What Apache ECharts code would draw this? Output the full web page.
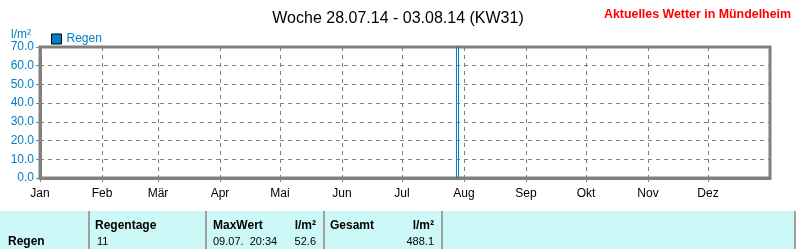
<!DOCTYPE html>
<html><head><meta charset="utf-8">
<script src="https://cdn.jsdelivr.net/npm/echarts@6/dist/echarts.min.js"></script>
<style>html,body{margin:0;padding:0;background:#fff}#c{width:796px;height:249px}</style>
</head><body><div id="c"></div>
<script>
const titleText = 'Woche 28.07.14 - 03.08.14 (KW31)';
const linkText = 'Aktuelles Wetter in Mündelheim';
const monthLabels = ['Jan','Feb','Mär','Apr','Mai','Jun','Jul','Aug','Sep','Okt','Nov','Dez'];
const monthStartDays = [0,31,59,90,120,151,181,212,243,273,304,334];
const yTicks = [0,10,20,30,40,50,60,70];
const weekDates = ['28.07.','29.07.','30.07.','31.07.','01.08.','02.08.','03.08.'];
const weekStartDay = 208;
const regenWeek = [0,0,0,0,0,0,0];
const weekMarkerDays = [208,209];
const tableHeader = ['Regentage','MaxWert','l/m²','Gesamt','l/m²'];
const tableRowLabel = 'Regen';
const tableRow = ['11','09.07.  20:34','52.6','488.1'];

const days = [];
for (let i = 0; i <= 365; i++) days.push(String(i));
const regenData = days.map(() => null);
regenWeek.forEach((v, k) => { regenData[weekStartDay + k] = v; });
const monthSet = new Set(monthStartDays);
const blue = '#0080c8';
const font = '"Liberation Sans", Arial, sans-serif';

const chart = echarts.init(document.getElementById('c'), null, {renderer: 'canvas'});
const sepX = [88, 205, 323, 441, 794];
const graphic = [
  {type:'text', right: 5, top: 9, style:{text: linkText, fill:'#ff0000', font:'bold 12.4px ' + font}},
  {type:'rect', shape:{x:0, y:211, width:796, height:38}, style:{fill:'#ccf8f8'}, silent:true},
];
sepX.forEach(x => {
  graphic.push({type:'rect', shape:{x:x, y:211, width:2, height:38}, style:{fill:'#a0a0a0'}});
});
const tb = 'bold 12px ' + font, tn = '11px ' + font;
graphic.push(
  {type:'text', x:95, y:226, style:{text:tableHeader[0], font:tb, fill:'#000', verticalAlign:'middle'}},
  {type:'text', x:213, y:226, style:{text:tableHeader[1], font:tb, fill:'#000', verticalAlign:'middle'}},
  {type:'text', x:316, y:226, style:{text:tableHeader[2], font:tb, fill:'#000', verticalAlign:'middle', align:'right'}},
  {type:'text', x:330, y:226, style:{text:tableHeader[3], font:tb, fill:'#000', verticalAlign:'middle'}},
  {type:'text', x:434, y:226, style:{text:tableHeader[4], font:tb, fill:'#000', verticalAlign:'middle', align:'right'}},
  {type:'text', x:8, y:242, style:{text:tableRowLabel, font:tb, fill:'#000', verticalAlign:'middle'}},
  {type:'text', x:97, y:242, style:{text:tableRow[0], font:tn, fill:'#000', verticalAlign:'middle'}},
  {type:'text', x:213, y:242, style:{text:tableRow[1], font:tn, fill:'#000', verticalAlign:'middle'}},
  {type:'text', x:316, y:242, style:{text:tableRow[2], font:tn, fill:'#000', verticalAlign:'middle', align:'right'}},
  {type:'text', x:434, y:242, style:{text:tableRow[3], font:tn, fill:'#000', verticalAlign:'middle', align:'right'}}
);

chart.setOption({
  animation: false,
  title: {text: titleText, left: 'center', top: 6, textStyle:{fontSize:16, fontWeight:'normal', color:'#000', fontFamily: font}},
  legend: {left: 46, top: 28, itemWidth: 10, itemHeight: 10, itemGap: 4, icon: 'rect',
    itemStyle:{color: blue, borderColor:'#000', borderWidth:1},
    textStyle:{color: blue, fontSize: 12, fontFamily: font}, data:['Regen']},
  grid: {left: 40, right: 26, top: 47, bottom: 71, show: true, borderColor:'#808080', borderWidth: 3, backgroundColor:'transparent'},
  xAxis: {type:'category', data: days, boundaryGap: false,
    axisLine:{lineStyle:{color:'#808080', width:3}},
    axisTick:{show:true, length:4, interval:(i)=>monthSet.has(i), lineStyle:{color:'#808080'}},
    axisLabel:{interval:(i)=>monthSet.has(i), color:'#000', fontSize:12, fontFamily: font, margin:10,
      formatter:(v, i)=> monthLabels[monthStartDays.indexOf(Number(v))] || ''},
    splitLine:{show:true, interval:(i)=>monthSet.has(i) && i>0, lineStyle:{color:'#808080', type:[4,4], width:1}}
  },
  yAxis: {type:'value', min: yTicks[0], max: yTicks[yTicks.length-1], interval: 10,
    name: 'l/m²', nameLocation:'end', nameGap: 6,
    nameTextStyle:{color: blue, fontSize: 12, fontFamily: font, align:'right', padding:[0,9,0,0]},
    axisLine:{show:true, lineStyle:{color:'#808080', width:3}},
    axisTick:{show:true, length:4, lineStyle:{color:'#808080'}},
    axisLabel:{color: blue, fontSize: 12, fontFamily: font, margin: 6, formatter:(v)=>v.toFixed(1)},
    splitLine:{show:true, lineStyle:{color:'#808080', type:[4,4], width:1}}
  },
  series: [{
    name:'Regen', type:'bar', data: regenData, barWidth: 2,
    itemStyle:{color: blue, borderWidth:0},
    markLine:{symbol:'none', silent:true, label:{show:false},
      lineStyle:{color: blue, type:'solid', width:1},
      data: weekMarkerDays.map(d => ({xAxis: String(d)}))}
  }],
  graphic: graphic
});
</script>
</body></html>
